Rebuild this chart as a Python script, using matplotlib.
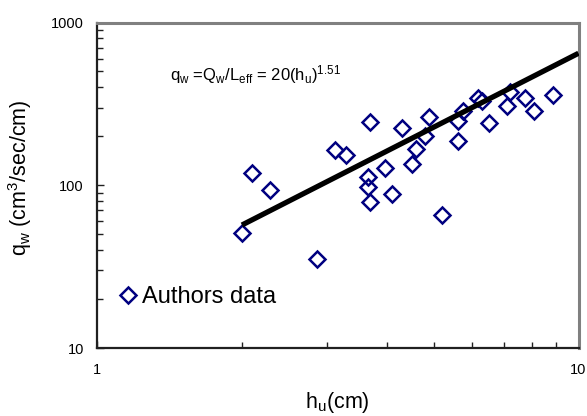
import matplotlib
matplotlib.use("Agg")
import matplotlib.pyplot as plt
from matplotlib.ticker import LogLocator, FixedLocator, FixedFormatter, NullFormatter

plt.rcParams['font.family'] = ['Liberation Sans', 'DejaVu Sans']
plt.rcParams['mathtext.fontset'] = 'custom'
plt.rcParams['mathtext.rm'] = 'Liberation Sans'
plt.rcParams['mathtext.it'] = 'Liberation Sans'

# ---- data ----
h_u = [2.0, 2.10, 2.29, 2.86, 3.12, 3.29, 3.69, 3.66, 3.66, 3.69, 3.96, 4.09,
       4.29, 4.51, 4.59, 4.81, 4.89, 5.20, 5.63, 5.63, 5.76, 6.19, 6.29, 6.52,
       7.09, 7.20, 7.74, 8.09, 8.87]
q_w = [51, 119, 94, 35, 165, 154, 245, 112, 98, 79, 128, 88,
       225, 136, 167, 202, 264, 66, 186, 247, 284, 344, 328, 241,
       305, 374, 344, 287, 360]

fit_coef = 20
fit_exp = 1.51
fit_h = [2.0, 10.0]
fit_q = [fit_coef * h ** fit_exp for h in fit_h]

x_ticks = [1, 10]
x_ticklabels = ['1', '10']
y_ticks = [10, 100, 1000]
y_ticklabels = ['10', '100', '1000']

fig = plt.figure(figsize=(5.87, 4.16), dpi=100)
ax = fig.add_axes([97/587, 1-348/416, (578.5-97)/587, (348-22.5)/416])
ax.set_xscale('log')
ax.set_yscale('log')
ax.set_xlim(1, 10)
ax.set_ylim(10, 1000)

ax.plot(h_u, q_w, linestyle='none', marker='D', ms=7.8, mfc='none',
        mec='#000080', mew=1.8, label='Authors data', zorder=3)
ax.plot(fit_h, fit_q, color='black', lw=3.8, solid_capstyle='butt', zorder=4)

ax.xaxis.set_major_locator(FixedLocator(x_ticks))
ax.xaxis.set_major_formatter(FixedFormatter(x_ticklabels))
ax.yaxis.set_major_locator(FixedLocator(y_ticks))
ax.yaxis.set_major_formatter(FixedFormatter(y_ticklabels))
ax.xaxis.set_minor_locator(LogLocator(base=10, subs=range(2, 10)))
ax.yaxis.set_minor_locator(LogLocator(base=10, subs=range(2, 10)))
ax.xaxis.set_minor_formatter(NullFormatter())
ax.yaxis.set_minor_formatter(NullFormatter())

ax.tick_params(which='both', direction='in', color='#202020', width=1.0)
ax.tick_params(which='major', length=5)
ax.tick_params(which='minor', length=4)
ax.tick_params(axis='x', which='both', top=False, labelsize=10.5, pad=11)
ax.tick_params(axis='y', which='both', right=False, labelsize=10.5, pad=9.5)

for s in ['left', 'bottom']:
    ax.spines[s].set_color('#202020')
    ax.spines[s].set_linewidth(1.6)
for s in ['top', 'right']:
    ax.spines[s].set_color('#808080')
    ax.spines[s].set_linewidth(2.2)

ax.set_ylabel(r'q$_\mathregular{w}$ (cm$^\mathregular{3}$/sec/cm)', fontsize=15.5)
ax.yaxis.set_label_coords(-0.13, 0.523)
ax.set_xlabel(r'h$_\mathregular{u}$(cm)', fontsize=15.5)
ax.xaxis.set_label_coords(0.5, -0.13)

ax.text(0.152, 0.84,
        r'q$_\mathregular{w}$ =Q$_\mathregular{w}$/L$_\mathregular{eff}$ = 20(h$_\mathregular{u}$)$^\mathregular{1.51}$',
        transform=ax.transAxes, fontsize=12, va='center', ha='left')

ax.legend(loc='center left', bbox_to_anchor=(0.05, 0.157), frameon=False,
          fontsize=17, handlelength=0.6, handletextpad=0.3, borderpad=0,
          borderaxespad=0)

fig.savefig('out.png', dpi=100)
